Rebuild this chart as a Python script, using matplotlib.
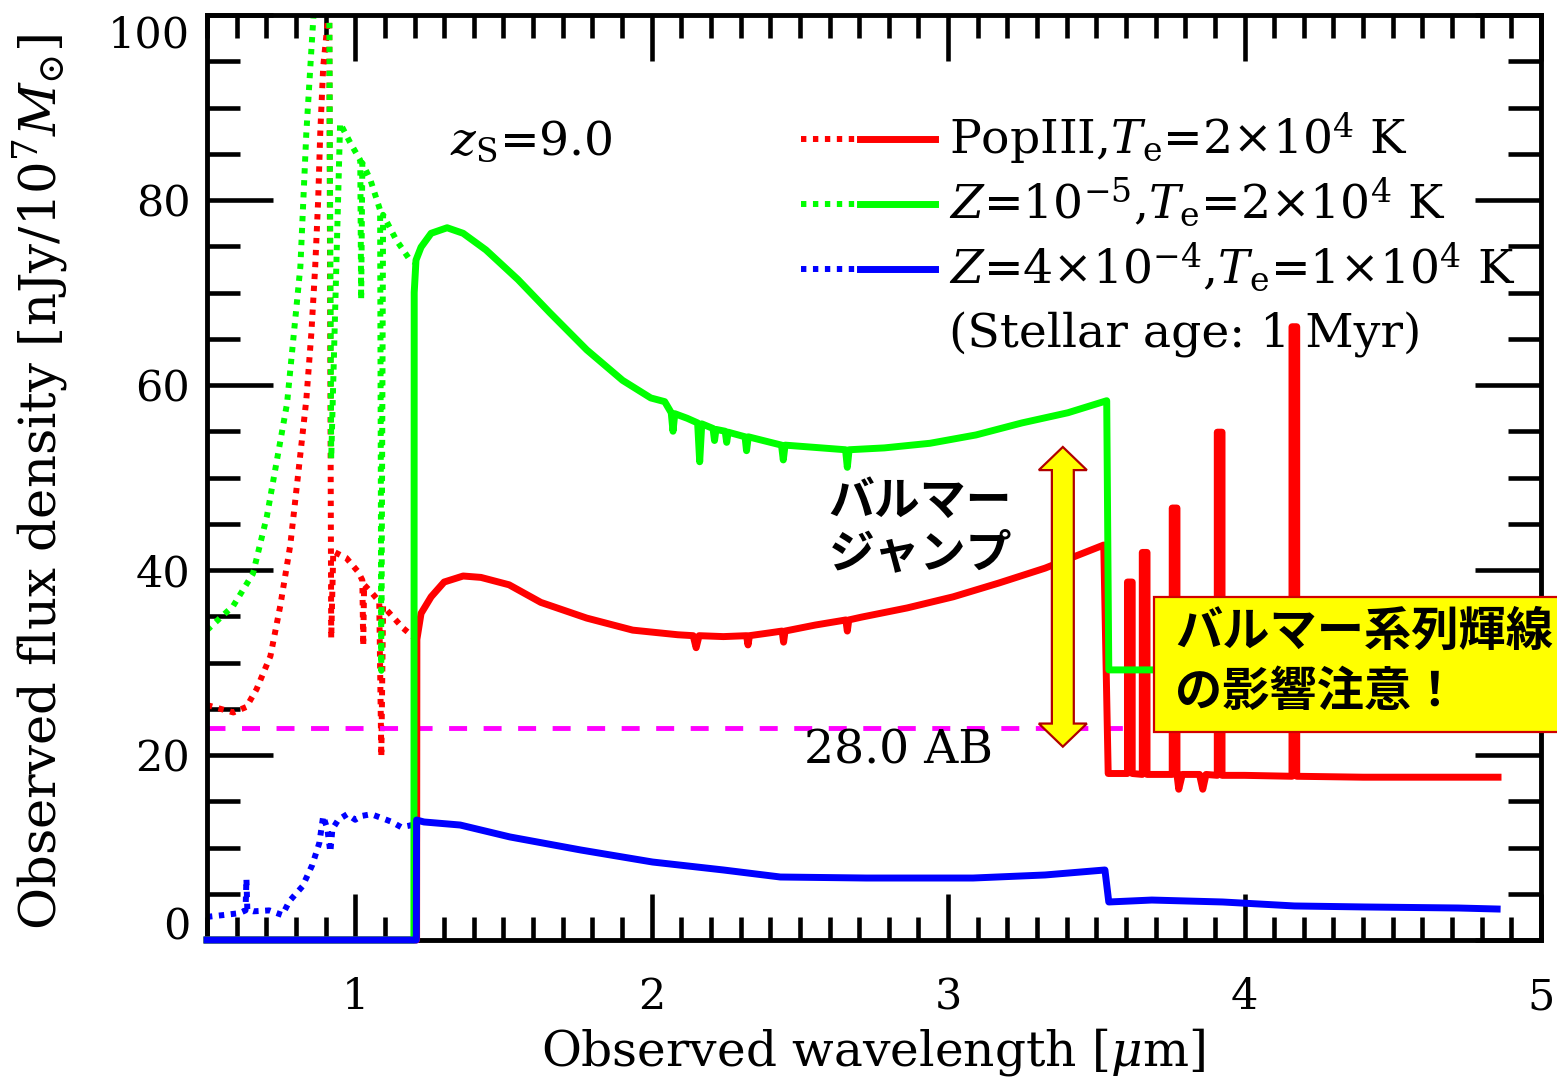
import numpy as np
import matplotlib.pyplot as plt
from matplotlib.patches import Polygon, Rectangle
from matplotlib.ticker import MultipleLocator

plt.rcParams['font.family'] = ['DejaVu Serif']
plt.rcParams['mathtext.fontset'] = 'dejavuserif'

# ---- values (wavelength in um, flux in nJy / 1e7 Msun) ----
# intrinsic spectra blueward of Ly-alpha (dotted)
pop3_dot_x = [0.50, 0.589, 0.633, 0.667, 0.714, 0.747, 0.781, 0.808, 0.835, 0.852, 0.865,
              0.875, 0.882, 0.892, 0.909, 0.912, 0.919, 0.926, 0.970, 1.010, 1.024, 1.027,
              1.030, 1.054, 1.081, 1.088, 1.094, 1.128, 1.162, 1.195, 1.207]
pop3_dot_y = [25.4, 24.6, 25.2, 27.1, 30.7, 36.1, 42.7, 50.5, 58.4, 65.6, 72.8,
              80.0, 87.2, 94.4, 99.8, 104.0, 32.6, 42.0, 41.3, 39.8, 38.9, 31.8,
              38.4, 37.6, 36.6, 19.8, 36.1, 34.9, 33.7, 32.8, 32.6]

z5_dot_x = [0.50, 0.588, 0.655, 0.702, 0.770, 0.815, 0.835, 0.852, 0.859, 0.865, 0.912,
            0.919, 0.949, 0.983, 1.017, 1.020, 1.024, 1.051, 1.084, 1.088, 1.094, 1.138,
            1.185, 1.198]
z5_dot_y = [33.5, 36.1, 39.6, 45.8, 58.0, 72.8, 87.2, 96.2, 99.8, 104.0, 104.0,
            52.0, 88.3, 86.2, 84.3, 69.2, 84.0, 82.2, 78.9, 29.1, 78.4, 75.7,
            73.5, 73.3]

z4_dot_x = [0.50, 0.556, 0.609, 0.630, 0.633, 0.636, 0.657, 0.710, 0.754, 0.778, 0.822,
            0.855, 0.879, 0.892, 0.906, 0.916, 0.923, 0.943, 0.973, 1.000, 1.020, 1.054,
            1.088, 1.121, 1.155, 1.189, 1.203]
z4_dot_y = [2.5, 2.7, 2.9, 3.2, 6.6, 3.3, 3.1, 3.2, 2.7, 4.2, 5.8,
            8.1, 10.5, 13.4, 12.0, 9.5, 12.0, 13.0, 13.6, 13.0, 13.4, 13.6,
            13.2, 12.8, 12.2, 12.4, 12.8]

# observed spectra (solid)
pop3_x = [0.50, 1.207, 1.208, 1.222, 1.256, 1.300, 1.364, 1.424, 1.519, 1.626, 1.781,
          1.936, 2.088, 2.140, 2.150, 2.160, 2.242, 2.320, 2.325, 2.330, 2.397, 2.440,
          2.445, 2.450, 2.552, 2.655, 2.660, 2.665, 2.707, 2.862, 3.017, 3.172, 3.327,
          3.525, 3.540, 3.605, 3.605, 3.621, 3.621, 3.655, 3.655, 3.671, 3.671, 3.756,
          3.756, 3.772, 3.772, 3.778, 3.790, 3.848, 3.859, 3.870, 3.908, 3.908, 3.924,
          3.924, 4.000, 4.160, 4.160, 4.176, 4.176, 4.400, 4.600, 4.855]
pop3_y = [0.0, 0.0, 32.5, 35.3, 37.1, 38.7, 39.35, 39.2, 38.4, 36.5, 34.8,
          33.5, 33.0, 32.9, 31.6, 32.9, 32.8, 32.9, 31.9, 32.9, 33.2, 33.4,
          32.2, 33.4, 34.05, 34.6, 33.4, 34.6, 34.9, 35.9, 37.1, 38.6, 40.2,
          42.7, 18.0, 18.0, 38.7, 38.7, 18.0, 17.9, 41.9, 41.9, 17.9, 17.9,
          46.7, 46.7, 17.9, 16.3, 17.9, 17.9, 16.3, 17.9, 17.8, 54.9, 54.9,
          17.8, 17.8, 17.7, 66.3, 66.3, 17.7, 17.6, 17.6, 17.6]

z5_x = [0.50, 1.198, 1.199, 1.205, 1.222, 1.256, 1.310, 1.364, 1.441, 1.549, 1.657,
        1.781, 1.902, 1.997, 2.044, 2.066, 2.072, 2.078, 2.120, 2.155, 2.162, 2.169,
        2.207, 2.212, 2.217, 2.248, 2.253, 2.258, 2.315, 2.320, 2.326, 2.438, 2.444,
        2.450, 2.654, 2.660, 2.666, 2.785, 2.939, 3.094, 3.249, 3.404, 3.535, 3.542,
        3.700, 4.200, 4.855]
z5_y = [0.0, 0.0, 70.0, 73.5, 74.9, 76.4, 77.0, 76.4, 74.6, 71.4, 67.8,
        63.8, 60.5, 58.6, 58.2, 57.0, 55.0, 56.9, 56.4, 55.9, 51.7, 55.8,
        55.3, 54.0, 55.2, 55.0, 53.8, 54.9, 54.4, 52.9, 54.4, 53.5, 51.9,
        53.5, 53.0, 51.1, 53.0, 53.2, 53.7, 54.6, 55.9, 57.0, 58.3, 29.2,
        29.2, 29.2, 29.2]

z4_x = [0.50, 1.206, 1.207, 1.232, 1.354, 1.522, 1.761, 2.003, 2.242, 2.434, 2.724,
        3.084, 3.327, 3.529, 3.542, 3.687, 3.926, 4.168, 4.407, 4.721, 4.852]
z4_y = [0.0, 0.0, 12.97, 12.76, 12.43, 11.14, 9.73, 8.43, 7.57, 6.81, 6.70,
        6.70, 7.03, 7.57, 4.11, 4.32, 4.11, 3.68, 3.57, 3.46, 3.35]

labels = [r'PopIII,$T_{\rm e}$=2$\times$10$^4$ K',
          r'$Z$=10$^{-5}$,$T_{\rm e}$=2$\times$10$^4$ K',
          r'$Z$=4$\times$10$^{-4}$,$T_{\rm e}$=1$\times$10$^4$ K']
colors = ['#ff0000', '#00ff00', '#0000ff']

ab_limit_x = [0.50, 3.64]   # 28.0 AB depth
ab_limit_flux = 22.9

x_ticks = [1, 2, 3, 4, 5]
y_ticks = [0, 20, 40, 60, 80, 100]

# ---- figure ----
fig = plt.figure(figsize=(15.57, 10.82), dpi=100)
ax = fig.add_axes([207 / 1557, 1 - 940 / 1082, 1334 / 1557, 925 / 1082])

dot = (0, (0.9, 1.1))
dots = [(pop3_dot_x, pop3_dot_y), (z5_dot_x, z5_dot_y), (z4_dot_x, z4_dot_y)]
sols = [(pop3_x, pop3_y), (z5_x, z5_y), (z4_x, z4_y)]
for (dx, dy), c in zip(dots, colors):
    ax.plot(dx, dy, color=c, lw=4.3, ls=dot, zorder=2)
for (sx, sy), c in zip(sols, colors):
    ax.plot(sx, sy, color=c, lw=5, solid_joinstyle='round', zorder=3, clip_on=False)

ax.plot(ab_limit_x, [ab_limit_flux] * 2, color='#ff00ff', lw=3.5, ls=(0, (3.7, 3.4)), zorder=2.5)
ax.text(2.515, 19.1, '28.0 AB', fontsize=34, ha='left', va='baseline')

ax.text(1.32, 84.9, r'$z_{\rm S}$=9.0', fontsize=34, ha='left', va='baseline')

# legend drawn by hand
leg_line_y = [86.6, 79.6, 72.5]
leg_text_y = [84.9, 78.0, 71.0]
for c, ly, ty, lab in zip(colors, leg_line_y, leg_text_y, labels):
    ax.plot([2.505, 2.687], [ly, ly], color=c, lw=4.3, ls=dot, zorder=4)
    ax.plot([2.704, 2.956], [ly, ly], color=c, lw=5, zorder=4)
    ax.text(3.003, ty, lab, fontsize=34, ha='left', va='baseline')
ax.text(3.003, 64.0, '(Stellar age: 1 Myr)', fontsize=34, ha='left', va='baseline')

# Balmer jump annotation
jp = ['Noto Sans CJK JP', 'DejaVu Sans']
ax.text(2.597, 47.4, 'バルマー', family=jp, weight='bold', fontsize=33, ha='left', va='center')
ax.text(2.597, 41.7, 'ジャンプ', family=jp, weight='bold', fontsize=33, ha='left', va='center')

xc, y_top, y_bot = 3.387, 53.3, 20.9
hw_s, hw_h, hl = 0.037, 0.081, 2.5
arrow = Polygon([(xc - hw_s, y_bot + hl), (xc - hw_h, y_bot + hl), (xc, y_bot),
                 (xc + hw_h, y_bot + hl), (xc + hw_s, y_bot + hl), (xc + hw_s, y_top - hl),
                 (xc + hw_h, y_top - hl), (xc, y_top), (xc - hw_h, y_top - hl),
                 (xc - hw_s, y_top - hl)], closed=True, fc='#ffff00', ec='#b00000',
                lw=1.6, zorder=5)
ax.add_patch(arrow)

box = Rectangle((3.694, 22.5), 1.6, 14.6, fc='#ffff00', ec='#d00000', lw=1.6,
                zorder=6, clip_on=False)
ax.add_patch(box)
ax.text(3.766, 33.3, 'バルマー系列輝線', family=jp, weight='bold', fontsize=34,
        ha='left', va='center', zorder=7, clip_on=False)
ax.text(3.766, 26.8, 'の影響注意！', family=jp, weight='bold', fontsize=34,
        ha='left', va='center', zorder=7, clip_on=False)

# axes
ax.set_xlim(0.5, 5)
ax.set_ylim(0, 100)
ax.set_xticks(x_ticks)
ax.set_yticks(y_ticks)
ax.xaxis.set_minor_locator(MultipleLocator(0.1))
ax.yaxis.set_minor_locator(MultipleLocator(5))
ax.tick_params(which='both', direction='in', top=True, right=True, width=3.3)
ax.tick_params(axis='x', which='major', length=33, pad=26, labelsize=31)
ax.tick_params(axis='x', which='minor', length=16.5)
ax.tick_params(axis='y', which='major', length=47.5, pad=12, labelsize=31)
ax.tick_params(axis='y', which='minor', length=24)
for s in ax.spines.values():
    s.set_linewidth(3.5)

yt = ax.yaxis.get_major_ticks(len(y_ticks))
yt[0].label1.set_va('baseline')
yt[-1].label1.set_va('top')

ax.set_xlabel(r'Observed wavelength [$\mu$m]', fontsize=35, va='baseline')
ax.xaxis.set_label_coords(0.499, -0.1352)
ax.set_ylabel(r'Observed flux density [nJy/10$^7$$M_{\odot}$]', fontsize=37, va='center')
ax.yaxis.set_label_coords(-0.125, 0.495)

fig.savefig('out.png', dpi=100)
